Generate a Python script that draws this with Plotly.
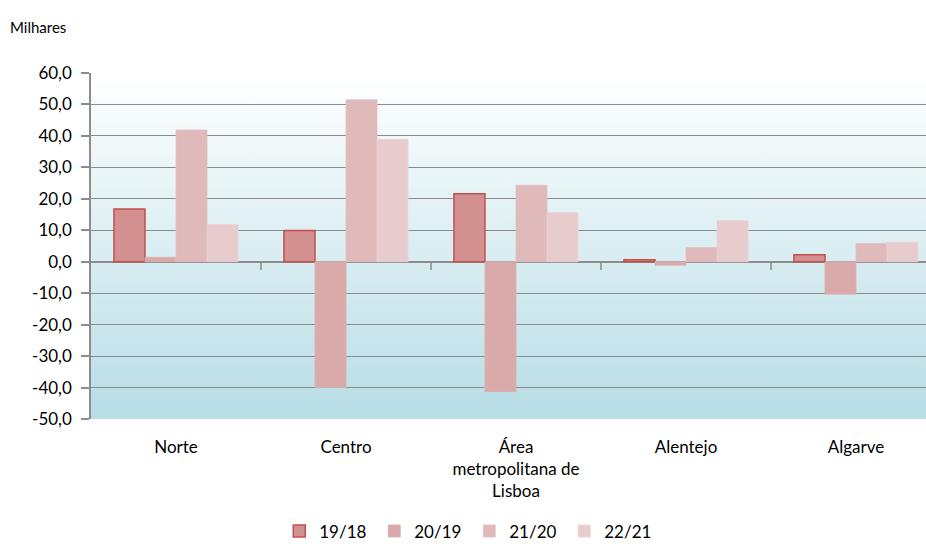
import plotly.graph_objects as go
import base64

categories = ["Norte", "Centro", "Área<br>metropolitana de<br>Lisboa", "Alentejo", "Algarve"]
series_names = ["19/18", "20/19", "21/20", "22/21"]
v_19_18 = [16.8, 9.9, 21.6, 0.6, 2.2]
v_20_19 = [1.4, -40.0, -41.3, -1.1, -10.3]
v_21_20 = [41.9, 51.5, 24.3, 4.5, 5.8]
v_22_21 = [11.8, 38.9, 15.6, 13.1, 6.2]
y_ticks = [60, 50, 40, 30, 20, 10, 0, -10, -20, -30, -40, -50]
y_ticktext = [f"{v:.1f}".replace(".", ",") for v in y_ticks]

values = [v_19_18, v_20_19, v_21_20, v_22_21]
fills = ["#D29090", "#DAA9A9", "#E0BABA", "#E8CBCD"]
lines = ["#C0504D", "#DCB0B0", "#E4C2C2", "#EDD4D6"]
lwidths = [1.5, 0.8, 0.8, 0.8]

fig = go.Figure()
for name, vals, fc, lc, lw in zip(series_names, values, fills, lines, lwidths):
    fig.add_trace(go.Bar(x=list(range(len(categories))), y=vals, name=name,
                         marker=dict(color=fc, line=dict(color=lc, width=lw))))

svg = ('<svg xmlns="http://www.w3.org/2000/svg" width="100" height="100" preserveAspectRatio="none">'
       '<defs><linearGradient id="g" x1="0" y1="0" x2="0" y2="1">'
       '<stop offset="0" stop-color="#FFFFFF"/><stop offset="1" stop-color="#B7DDE6"/>'
       '</linearGradient></defs><rect width="100" height="100" fill="url(#g)"/></svg>')
uri = "data:image/svg+xml;base64," + base64.b64encode(svg.encode()).decode()

font = "Lato, 'Open Sans', sans-serif"
shapes = []
for b in [0.5, 1.5, 2.5, 3.5]:
    shapes.append(dict(type="line", xref="x", yref="y", x0=b, x1=b, y0=0, y1=-2.6,
                       line=dict(color="#8A8A8A", width=1.5), layer="above"))

fig.update_layout(
    width=926, height=544,
    margin=dict(l=91, r=0, t=73, b=125, autoexpand=False),
    paper_bgcolor="white", plot_bgcolor="rgba(0,0,0,0)",
    font=dict(family=font, size=17, color="#000000"),
    barmode="group", bargap=0.27, bargroupgap=0,
    images=[dict(source=uri, xref="paper", yref="paper", x=0, y=1, sizex=1, sizey=1,
                 xanchor="left", yanchor="top", sizing="stretch", layer="below")],
    shapes=shapes,
    showlegend=True,
    legend=dict(orientation="h", x=0.453, xanchor="center", y=-0.377, yanchor="bottom",
                font=dict(size=17), itemwidth=30, entrywidth=50, entrywidthmode="pixels",
                traceorder="normal", bgcolor="rgba(0,0,0,0)"),
    annotations=[dict(text="Milhares", xref="paper", yref="paper", x=-0.1, y=1.0,
                      xanchor="left", yanchor="middle", yshift=46, showarrow=False,
                      font=dict(size=15))],
)
fig.update_xaxes(
    tickmode="array", tickvals=list(range(len(categories))), ticktext=categories,
    range=[-0.5, -0.5 + 835 / 170], showgrid=False, zeroline=False, showline=False,
    ticks="", ticklabelstandoff=16, tickfont=dict(size=17), automargin=False,
)
fig.update_yaxes(
    range=[-50, 60], tickmode="array", tickvals=y_ticks, ticktext=y_ticktext,
    showgrid=True, gridcolor="#8C8C8C", gridwidth=1.3,
    zeroline=True, zerolinecolor="#8C8C8C", zerolinewidth=1.5,
    showline=True, linecolor="#8C8C8C", linewidth=1.5,
    ticks="outside", ticklen=8, tickcolor="#8C8C8C", tickwidth=1.5,
    ticklabelstandoff=6, tickfont=dict(size=17), automargin=False,
)

fig.write_html("out.html", config={"displayModeBar": False},
               post_script="document.body.style.margin='0';")
